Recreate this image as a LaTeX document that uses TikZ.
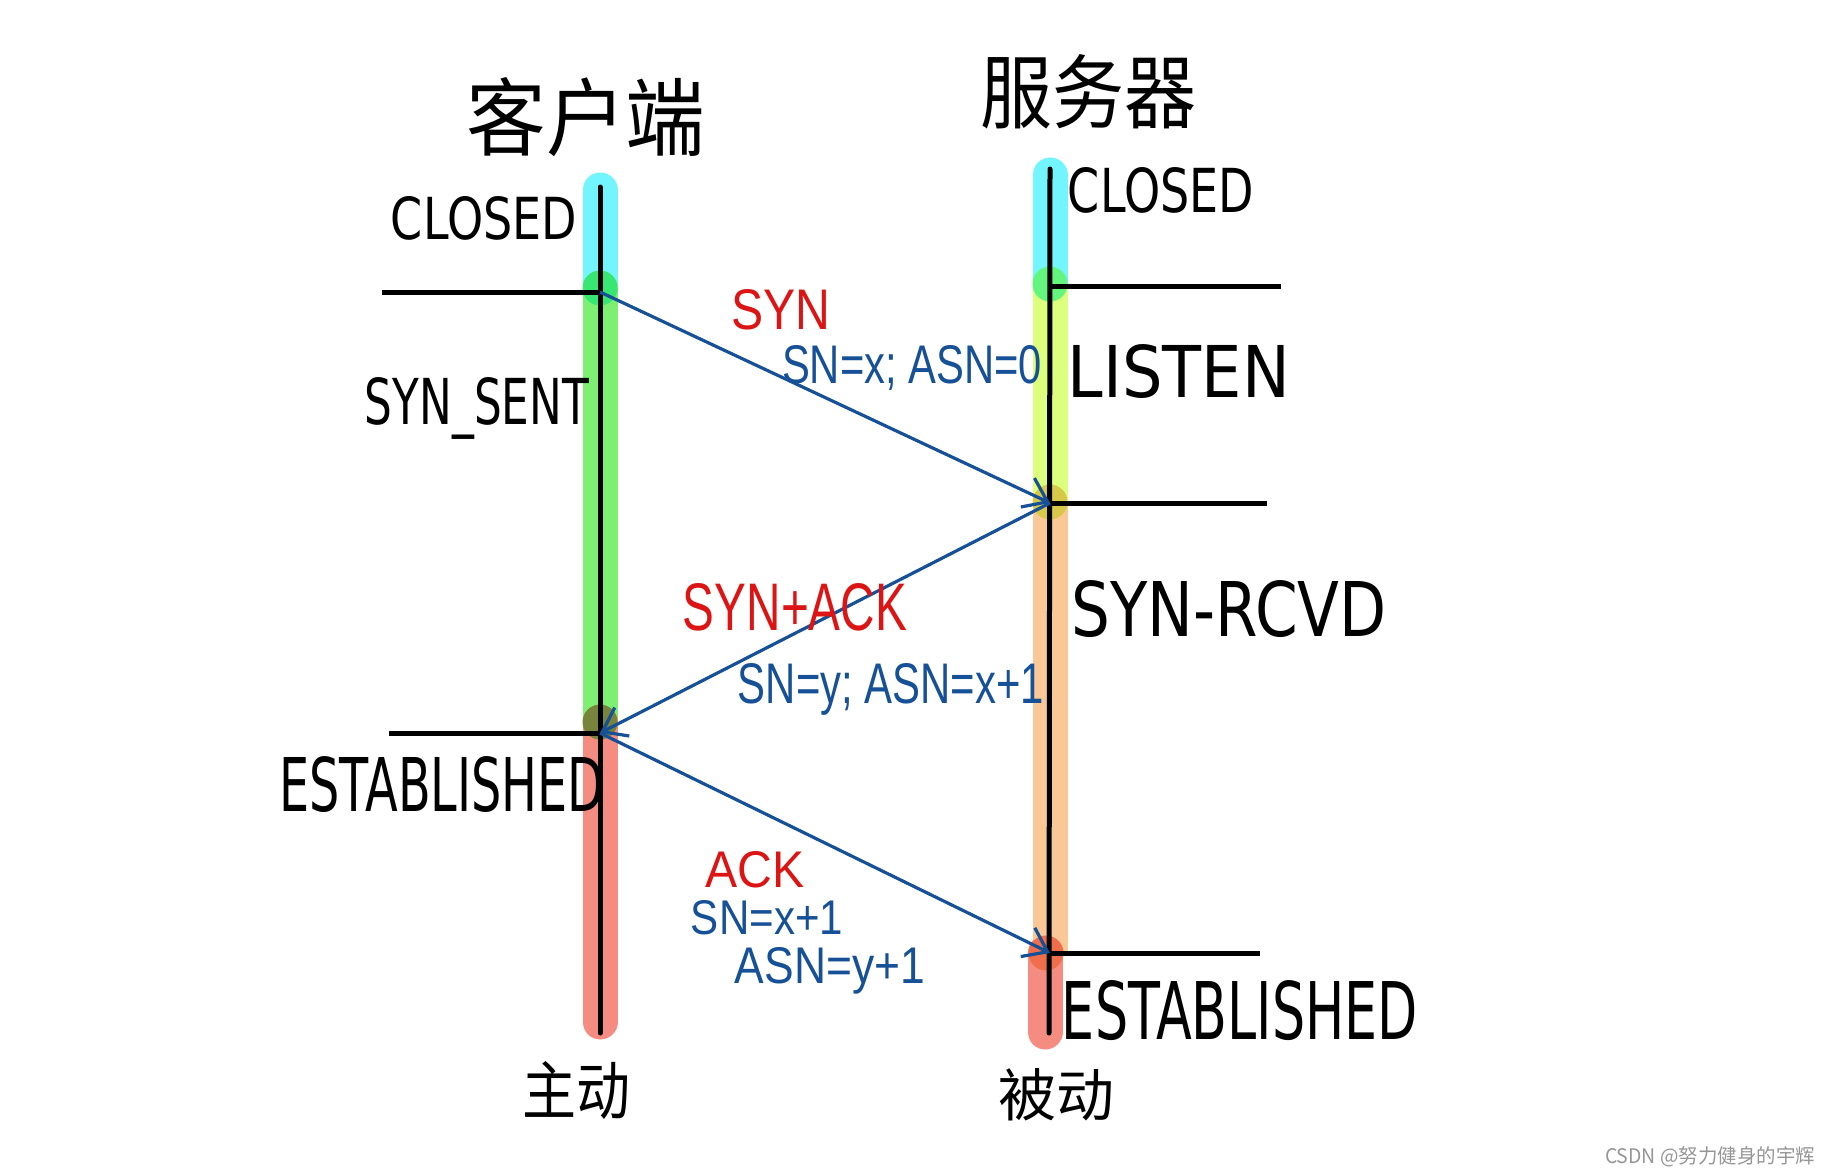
\documentclass[tikz,border=0pt]{standalone}
\usepackage{fontspec}
\setmainfont{DejaVu Sans}
\newfontfamily\cjk{Noto Sans CJK SC}
\newfontfamily\thinfont{Liberation Sans}
\usetikzlibrary{arrows.meta}
\definecolor{barcyan}{RGB}{115,245,255}
\definecolor{bargreen}{RGB}{125,240,115}
\definecolor{baryellow}{RGB}{220,255,125}
\definecolor{barorange}{RGB}{250,200,150}
\definecolor{barred}{RGB}{245,140,130}
\definecolor{mixcg}{RGB}{56,230,115}
\definecolor{mixgr}{RGB}{120,132,59}
\definecolor{mixcy}{RGB}{99,245,125}
\definecolor{mixyo}{RGB}{216,200,74}
\definecolor{mixor}{RGB}{240,110,76}
\definecolor{msgblue}{RGB}{22,80,150}
\definecolor{msgred}{RGB}{220,20,20}
\definecolor{wmgray}{RGB}{150,150,150}
\newcommand\fitbox[3]{\resizebox{#1pt}{#2pt}{#3}}
\begin{document}
\begin{tikzpicture}[x=1pt,y=-1pt,
  bar/.style={line width=35pt},
  barend/.style={line width=35pt,line cap=round},
  life/.style={line width=5pt,black,line cap=round},
  tick/.style={line width=5pt,black},
  msg/.style={line width=3.2pt,msgblue,-{Straight Barb[length=22pt,width=32pt,line width=3.2pt]}},
  lbl/.style={inner sep=0pt,anchor=base},
  cn/.style={inner sep=0pt,anchor=center,font=\cjk},
  blk/.style={lbl,text=black},
  blu/.style={lbl,text=msgblue,font=\thinfont},
  rd/.style={lbl,text=msgred,font=\thinfont}]
\useasboundingbox (0,0) rectangle (1821,1170);

% ---- left (client) bar ----
\draw[barend,barcyan] (600,190) -- (600,288);
\draw[bar,bargreen] (600,288) -- (600,722);
\draw[barend,barred] (600,722) -- (600,1022);
\draw[barend,bargreen] (600,288) -- (600,705);
\fill[mixcg] (600,288) circle (17.5);
\fill[mixgr] (600,722) circle (17.5);

% ---- right (server) bar ----
\draw[barend,barcyan] (1050,175) -- (1050,284);
\draw[bar,baryellow] (1050,284) -- (1050,502);
\draw[bar,barorange] (1050,502) -- (1050,953);
\draw[barend,barred] (1045,953) -- (1045,1032);
\draw[bar,barorange] (1050,502) -- (1050,940);
\fill[mixcy] (1050,284) circle (17.5);
\fill[mixyo] (1050,502) circle (17.5);
\fill[mixor] (1046,953) circle (17.5);

% ---- life lines ----
\coordinate (ltop) at (600,187);
\coordinate (lbot) at (600,1033);
\coordinate (rtop) at (1050,169);
\coordinate (rbot) at (1049,1033);
\draw[life] (ltop) -- (lbot);
\draw[life] (rtop) -- (rbot);

% ---- state ticks ----
\coordinate (l1) at (600,292);  \coordinate (l1e) at (382,292);
\coordinate (l2) at (600,733);  \coordinate (l2e) at (389,733);
\coordinate (r1) at (1050,286); \coordinate (r1e) at (1281,286);
\coordinate (r2) at (1050,503); \coordinate (r2e) at (1267,503);
\coordinate (r3) at (1050,953); \coordinate (r3e) at (1260,953);
\draw[tick] (l1e) -- (l1);
\draw[tick] (l2e) -- (l2);
\draw[tick] (r1) -- (r1e);
\draw[tick] (r2) -- (r2e);
\draw[tick] (r3) -- (r3e);

% ---- messages ----
\draw[msg] (l1) -- (r2);
\draw[msg] (r2) -- (l2);
\draw[msg] (l2) -- (r3);

% ---- titles ----
\node[cn] (client) at (586,117) {\fitbox{239}{72}{客户端}};
\node[cn] (server) at (1088,92) {\fitbox{216}{68}{服务器}};
\node[cn] (active) at (576,1090) {\fitbox{108}{53}{主动}};
\node[cn] (passive) at (1056,1095) {\fitbox{116}{48}{被动}};

% ---- states ----
\node[blk] (closedL) at (484,239) {\fitbox{186}{43}{CLOSED}};
\node[blk] (closedR) at (1161,212) {\fitbox{186}{45}{CLOSED}};
\node[blk] (synsent) at (477,424) {\fitbox{224}{47}{SYN\_SENT}};
\node[blk] (listen) at (1179,397) {\fitbox{222}{53}{LISTEN}};
\node[blk] (synrcvd) at (1229,636) {\fitbox{315}{56}{SYN-RCVD}};
\node[blk] (estL) at (442,811) {\fitbox{325}{55}{ESTABLISHED}};
\node[blk] (estR) at (1240,1039) {\fitbox{356}{59}{ESTABLISHED}};

% ---- message labels ----
\node[rd] (syn) at (781,329) {\fitbox{99}{40}{SYN}};
\node[blu] (syninfo) at (912,383) {\fitbox{260}{38}{SN=x; ASN=0}};
\node[rd] (synack) at (795,630) {\fitbox{224}{47}{SYN+ACK}};
\node[blu] (synackinfo) at (891,703) {\fitbox{306}{40}{SN=y; ASN=x+1}};
\node[rd] (ack) at (755,887) {\fitbox{99}{36}{ACK}};
\node[blu] (ackinfo1) at (767,934) {\fitbox{152}{34}{SN=x+1}};
\node[blu] (ackinfo2) at (830,983) {\fitbox{190}{36}{ASN=y+1}};

% ---- watermark ----
\node[cn,text=wmgray] (wm) at (1710,1157) {\fitbox{210}{17}{CSDN @努力健身的宇辉}};
\end{tikzpicture}
\end{document}
